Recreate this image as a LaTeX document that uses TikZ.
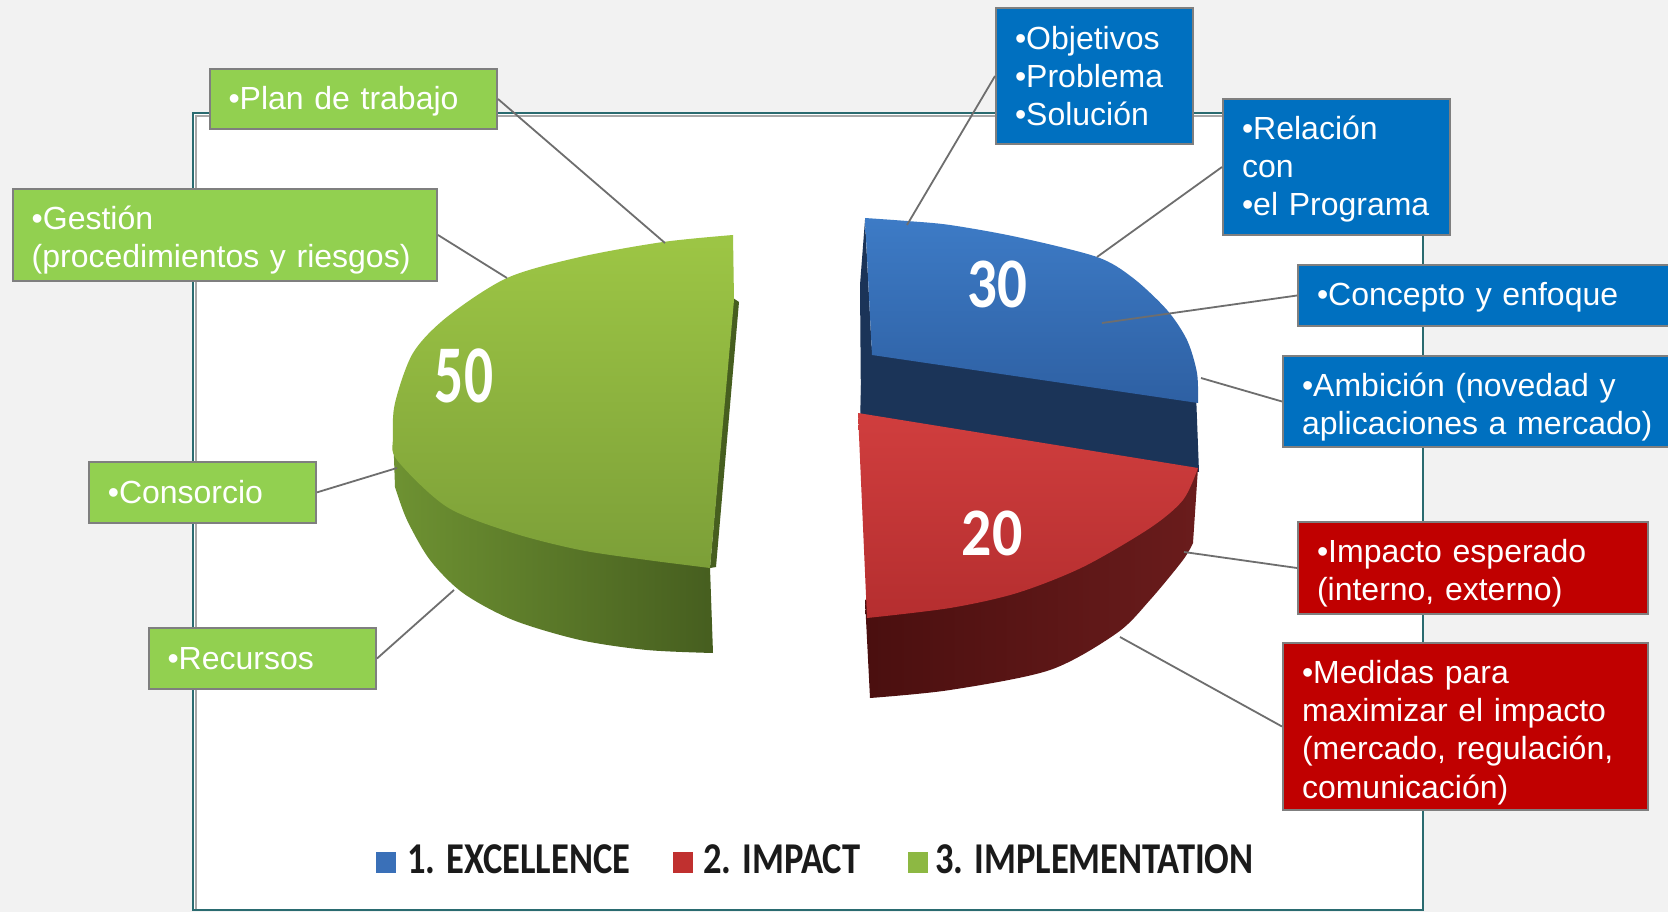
\documentclass[tikz,border=0pt]{standalone}
\usepackage{graphicx}
\usepackage{fontspec}
\setmainfont{Liberation Sans}
\newfontfamily\calib{Carlito}
\newcommand{\lift}[1]{\rule{0pt}{#1pt}}
\definecolor{bg}{HTML}{F2F2F2}
\definecolor{frameteal}{HTML}{2A6B70}
\definecolor{framegray}{HTML}{A8A8A8}
\definecolor{boxgray}{HTML}{7F7F7F}
\definecolor{grnbox}{HTML}{92D050}
\definecolor{bluebox}{HTML}{0070C0}
\definecolor{redbox}{HTML}{C00000}
\definecolor{conngray}{HTML}{6E6E6E}
\definecolor{gtopa}{HTML}{9DC645}
\definecolor{gtopb}{HTML}{7C9F38}
\definecolor{gsidea}{HTML}{6E9232}
\definecolor{gsideb}{HTML}{465E1F}
\definecolor{btopa}{HTML}{3D7BC6}
\definecolor{btopb}{HTML}{2E60A3}
\definecolor{bside}{HTML}{1B3458}
\definecolor{rtopa}{HTML}{D03E3E}
\definecolor{rtopb}{HTML}{B52E2F}
\definecolor{rsidea}{HTML}{4A0F0F}
\definecolor{rsideb}{HTML}{6A1C1C}
\definecolor{legblue}{HTML}{3A70B8}
\definecolor{legred}{HTML}{C0302F}
\definecolor{leggreen}{HTML}{8DB843}
\definecolor{legtext}{HTML}{1A1A1A}
\begin{document}
\begin{tikzpicture}[x=1pt,y=-1pt,
  lbl/.style={draw=boxgray, line width=2pt, text=white, inner xsep=19pt, inner ysep=0pt,
    align=left, font=\fontsize{32}{38.3}\selectfont, anchor=north west},
  conn/.style={draw=conngray, line width=1.8pt},
  numlbl/.style={text=white, inner sep=0pt, font=\calib\bfseries},
  legtxt/.style={text=legtext, inner sep=0pt, anchor=base west, font=\calib\bfseries\fontsize{44}{44}\selectfont},
  legsq/.style={minimum width=20pt, minimum height=21pt, inner sep=0pt, draw=none}]
\useasboundingbox (0,0) rectangle (1668,912);
\clip (0,0) rectangle (1668,912);
\fill[bg] (0,0) rectangle (1668,912);
% frame
\fill[white] (193,113) rectangle (1423,910);
\draw[framegray, line width=2pt] (196,910) -- (196,116) -- (1421,116);
\draw[frameteal, line width=2.5pt] (193,113) rectangle (1423,910);

% ---- green piece (50)
\path[left color=gsidea, right color=gsideb] (712,430) -- (710,568) -- (713,653)
  -- plot[smooth] coordinates {(713,653) (647,650) (580,640) (513,620) (463,593) (430,560) (407,520) (395,487)}
  -- (393,430) -- cycle;
\fill[gsideb] (733,298) -- (739,302) -- (716,567) -- (710,568) -- cycle;
\path[top color=gtopa, bottom color=gtopb] (733,235) -- (734,300) -- (710,568)
  -- plot[smooth] coordinates {(710,568) (647,560) (580,550) (513,533) (447,507) (397,460) (393,437) (395,403) (413,353) (447,317) (507,278) (580,257) (663,242) (733,235)}
  -- cycle;

% ---- blue piece (30)
\fill[bside] (862,345) -- (1196,393) -- (1199,472) -- (860,425) -- cycle;
\fill[bside] (865,220) -- (860,285) -- (861,412) -- (872,413) -- (872,355) -- cycle;
\path[top color=btopa, bottom color=btopb] (872,355) -- (865,218)
  -- plot[smooth] coordinates {(865,218) (907,221) (950,225) (1017,237) (1097,257) (1133,278) (1167,310) (1187,340) (1197,373) (1198,403)}
  -- cycle;

% ---- red piece (20)
\path[left color=rsidea, right color=rsideb] (865,600) -- (1198,468) -- (1193,543)
  -- plot[smooth] coordinates {(1193,543) (1183,560) (1150,600) (1117,633) (1050,670) (950,690) (870,698)}
  -- cycle;
\path[top color=rtopa, bottom color=rtopb] (858,413) -- (1198,468)
  -- plot[smooth] coordinates {(1198,468) (1183,500) (1150,528) (1083,567) (1017,593) (950,608) (867,618)}
  -- cycle;

% numbers
\node[numlbl] (n50) at (464,376) {\scalebox{0.70}[1]{\fontsize{82}{82}\selectfont 50}};
\node[numlbl] (n30) at (997,284) {\scalebox{0.83}[1]{\fontsize{71}{71}\selectfont 30}};
\node[numlbl] (n20) at (992,533) {\scalebox{0.88}[1]{\fontsize{68}{68}\selectfont 20}};

% legend
\node[legsq, fill=legblue] (s1) at (386,862.5) {};
\node[legtxt] (l1) at (407,873) {\scalebox{0.83}[1]{1. EXCELLENCE}};
\node[legsq, fill=legred] (s2) at (683,862.5) {};
\node[legtxt] (l2) at (703,873) {\scalebox{0.83}[1]{2. IMPACT}};
\node[legsq, fill=leggreen] (s3) at (917.5,862.5) {};
\node[legtxt] (l3) at (935,873) {\scalebox{0.83}[1]{3. IMPLEMENTATION}};

% boxes
\node[lbl, fill=grnbox, text width=249.5pt, minimum height=60pt] (plan) at (208.5,68) {\lift{27}•Plan de trabajo};
\node[lbl, fill=grnbox, text width=386.3pt, minimum height=92pt] (gestion) at (11.7,188) {\lift{34}•Gestión\\(procedimientos y riesgos)};
\node[lbl, fill=grnbox, text width=189.2pt, minimum height=61.3pt] (consorcio) at (87.8,460.7) {•Consorcio};
\node[lbl, fill=grnbox, text width=189.5pt, minimum height=61pt] (recursos) at (147.5,627) {•Recursos};
\node[lbl, fill=bluebox, text width=159pt, minimum height=136pt] (objetivos) at (995,7) {•Objetivos\\•Problema\\•Solución};
\node[lbl, fill=bluebox, text width=189pt, minimum height=136pt] (relacion) at (1222,98) {\lift{28}•Relación\\con\\•el Programa};
\node[lbl, fill=bluebox, text width=352pt, minimum height=61pt] (concepto) at (1297,264) {\lift{27}•Concepto y enfoque};
\node[lbl, fill=bluebox, text width=362pt, minimum height=91pt] (ambicion) at (1282,355) {\lift{34}•Ambición (novedad y\\aplicaciones a mercado)};
\node[lbl, fill=redbox, text width=312pt, minimum height=92pt] (impacto) at (1297,521) {\lift{34}•Impacto esperado\\(interno, externo)};
\node[lbl, fill=redbox, text width=327pt, minimum height=167pt] (medidas) at (1282,642) {\lift{35}•Medidas para\\maximizar el impacto\\(mercado, regulación,\\comunicación)};

% connector end points on the chart
\coordinate (pPlan) at (665,243);
\coordinate (pGest) at (507,278);
\coordinate (pCons) at (397,468);
\coordinate (pRec) at (454,590);
\coordinate (pObj) at (907,225);
\coordinate (pRel) at (1097,257);
\coordinate (pCon) at (1102,323);
\coordinate (pAmb) at (1201,378);
\coordinate (pImp) at (1184,552);
\coordinate (pMed) at (1120,637);

\draw[conn] (plan.east) -- (pPlan);
\draw[conn] (gestion.east) -- (pGest);
\draw[conn] (consorcio.east) -- (pCons);
\draw[conn] (recursos.east) -- (pRec);
\draw[conn] (objetivos.west) -- (pObj);
\draw[conn] (relacion.west) -- (pRel);
\draw[conn] (concepto.west) -- (pCon);
\draw[conn] (ambicion.west) -- (pAmb);
\draw[conn] (impacto.west) -- (pImp);
\draw[conn] (medidas.west) -- (pMed);
\end{tikzpicture}
\end{document}
